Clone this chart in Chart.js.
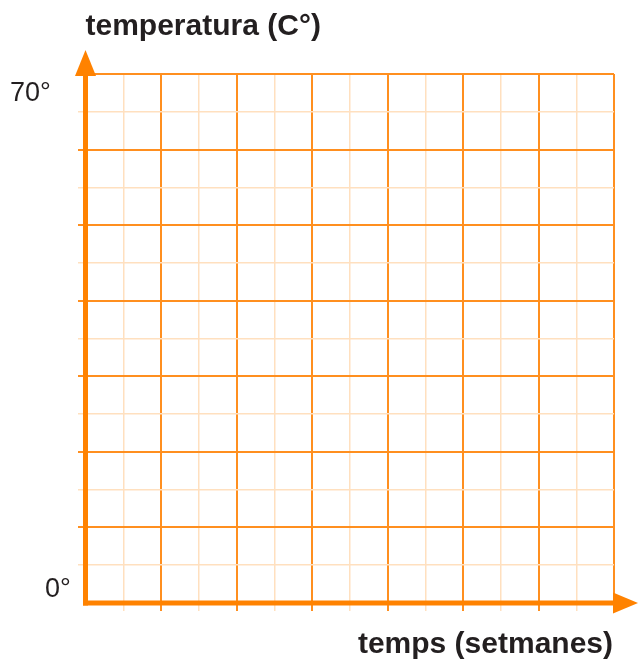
<!DOCTYPE html>
<html>
<head>
<meta charset="utf-8">
<script src="https://cdn.jsdelivr.net/npm/chart.js@4/dist/chart.umd.min.js"></script>
<style>
  html, body { margin: 0; padding: 0; background: #fff; }
  canvas { display: block; }
</style>
</head>
<body>
<canvas id="c" width="638" height="662"></canvas>
<script>
// ---- data ----
const xRange = [0, 7];          // weeks
const yRange = [0, 70];         // temperature
const xMinorStep = 0.5;
const xMajorStep = 1;
const yMinorStep = 5;
const yMajorStep = 10;
const yTickValues = [0, 70];
const yTickLabels = ['0°', '70°'];
const yAxisTitle = 'temperatura (C°)';
const xAxisTitle = 'temps (setmanes)';
const seriesValues = [];        // empty grid: no plotted points

// ---- styles ----
const MAJOR = '#FF8F1F';
const MINOR = '#FFE0BF';
const AXIS = '#FF8200';
const TEXT = '#231F20';
const NONE = 'rgba(0,0,0,0)';

const isMajor = (v, step) => Math.abs(v / step - Math.round(v / step)) < 1e-6;
const gridColor = (v, step) => v === 0 ? NONE : (isMajor(v, step) ? MAJOR : MINOR);

const decor = {
  id: 'decor',
  afterDraw(chart) {
    const { ctx, scales: { x, y } } = chart;
    const x0 = x.getPixelForValue(xRange[0]);
    const x1 = x.getPixelForValue(xRange[1]);
    const y0 = y.getPixelForValue(yRange[0]);
    const y1 = y.getPixelForValue(yRange[1]);
    const ax = x0 - 0.5;
    ctx.save();
    ctx.strokeStyle = AXIS;
    ctx.fillStyle = AXIS;
    ctx.lineWidth = 5;
    ctx.lineCap = 'butt';
    // y axis
    ctx.beginPath();
    ctx.moveTo(ax, y0 + 2.5);
    ctx.lineTo(ax, y1 + 2);
    ctx.stroke();
    // x axis
    ctx.beginPath();
    ctx.moveTo(ax - 2.5, y0);
    ctx.lineTo(x1 + 1, y0);
    ctx.stroke();
    // y arrow head
    ctx.beginPath();
    ctx.moveTo(ax, y1 - 24);
    ctx.lineTo(ax + 10.5, y1 + 2);
    ctx.lineTo(ax - 10.5, y1 + 2);
    ctx.closePath();
    ctx.fill();
    // x arrow head
    ctx.beginPath();
    ctx.moveTo(x1 - 1, y0 - 10.5);
    ctx.lineTo(x1 + 24, y0);
    ctx.lineTo(x1 - 1, y0 + 10.5);
    ctx.closePath();
    ctx.fill();
    // tick labels
    ctx.fillStyle = TEXT;
    ctx.font = '27px "Liberation Sans", Arial, sans-serif';
    ctx.textAlign = 'left';
    ctx.textBaseline = 'alphabetic';
    yTickValues.forEach((v, i) => {
      const py = y.getPixelForValue(v);
      if (v === yRange[1]) ctx.fillText(yTickLabels[i], 10, py + 27);
      else ctx.fillText(yTickLabels[i], 45, py - 6);
    });
    // axis titles
    ctx.font = 'bold 30px "Liberation Sans", Arial, sans-serif';
    ctx.textAlign = 'left';
    ctx.fillText(yAxisTitle, ax, 35);
    ctx.textAlign = 'right';
    ctx.fillText(xAxisTitle, x1 - 1, 653);
    ctx.restore();
  }
};

new Chart(document.getElementById('c'), {
  type: 'scatter',
  data: { datasets: [{ data: seriesValues, pointRadius: 0 }] },
  options: {
    responsive: false,
    animation: false,
    events: [],
    layout: { padding: { left: 78, top: 74, right: 24, bottom: 51 } },
    plugins: { legend: { display: false }, tooltip: { enabled: false }, title: { display: false } },
    scales: {
      x: {
        type: 'linear', min: xRange[0], max: xRange[1],
        ticks: { display: false, stepSize: xMinorStep },
        border: { display: false },
        grid: {
          drawTicks: true, tickLength: 8,
          color: c => gridColor(c.tick.value, xMajorStep),
          lineWidth: c => isMajor(c.tick.value, xMajorStep) ? 2 : 1.5
        },
        afterFit: s => { s.height = 8; }
      },
      y: {
        type: 'linear', min: yRange[0], max: yRange[1],
        ticks: { display: false, stepSize: yMinorStep },
        border: { display: false },
        grid: {
          drawTicks: true, tickLength: 8,
          color: c => gridColor(c.tick.value, yMajorStep),
          lineWidth: c => isMajor(c.tick.value, yMajorStep) ? 2 : 1.5
        },
        afterFit: s => { s.width = 8; }
      }
    }
  },
  plugins: [decor]
});
</script>
</body>
</html>
